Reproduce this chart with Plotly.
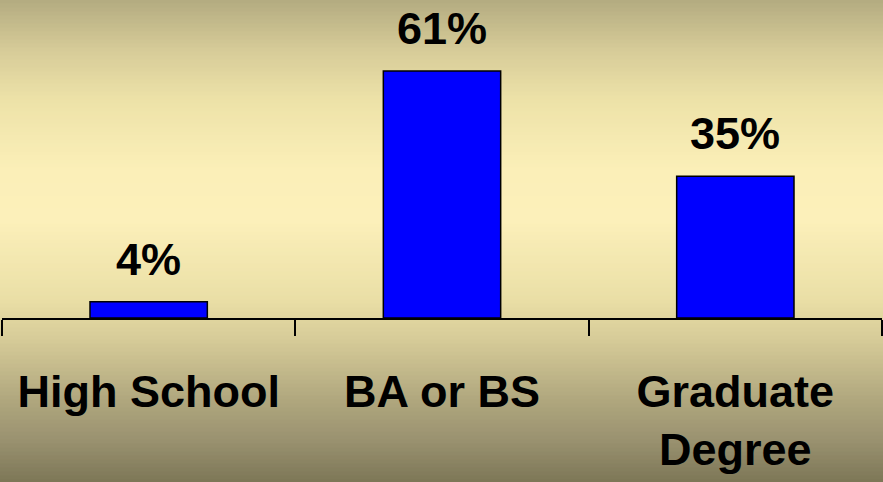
import plotly.graph_objects as go

categories = ["High School", "BA or BS", "Graduate<br>Degree"]
values = [4, 61, 35]
value_labels = ["4%", "61%", "35%"]

W, H = 883, 482
plot_bottom_px = 318  # axis baseline
margin_l, margin_r = 2, 1

# background gradient stops (pixel from top, color)
stops = [
    (0, (179, 171, 128)),
    (50, (214, 203, 152)),
    (100, (237, 226, 168)),
    (170, (251, 239, 184)),
    (220, (252, 240, 186)),
    (300, (234, 223, 166)),
    (340, (214, 203, 152)),
    (400, (176, 167, 126)),
    (440, (154, 146, 112)),
    (482, (125, 119, 87)),
]


def color_at(p):
    for (p0, c0), (p1, c1) in zip(stops[:-1], stops[1:]):
        if p0 <= p <= p1:
            t = (p - p0) / (p1 - p0)
            return "rgb(%d,%d,%d)" % tuple(round(a + (b - a) * t) for a, b in zip(c0, c1))
    return "rgb(%d,%d,%d)" % stops[-1][1]


shapes = []
band = 4
for p in range(0, H, band):
    y0 = 1 - (p + band + 0.5) / plot_bottom_px
    y1 = 1 - (p - 0.5) / plot_bottom_px
    shapes.append(dict(type="rect", xref="paper", yref="paper", x0=-0.01, x1=1.01,
                       y0=y0, y1=y1, fillcolor=color_at(p + band / 2),
                       line=dict(width=0), layer="below"))

fig = go.Figure()
fig.add_trace(go.Bar(
    x=categories, y=values, width=0.4,
    marker=dict(color="#0000FF", line=dict(color="black", width=1.5)),
    hoverinfo="skip",
))

tick_font = dict(family="Liberation Sans, Arial, sans-serif", size=45, color="black")
value_font = dict(family="Liberation Sans, Arial, sans-serif", size=45, color="black")

annotations = []
for c, v, lab in zip(categories, values, value_labels):
    annotations.append(dict(x=c, y=v, text="<b>%s</b>" % lab, showarrow=False,
                            yanchor="bottom", yshift=15, font=value_font))

px_per_unit = 4.05
fig.update_layout(
    width=W, height=H,
    margin=dict(l=margin_l, r=margin_r, t=0, b=H - plot_bottom_px, pad=0),
    paper_bgcolor="rgb(200,190,140)",
    plot_bgcolor="rgba(0,0,0,0)",
    showlegend=False,
    shapes=shapes,
    annotations=annotations,
    bargap=0.6,
    xaxis=dict(
        type="category", range=[-0.5, 2.5], tickson="boundaries",
        ticks="outside", ticklen=16, tickwidth=1.5, tickcolor="black",
        showline=True, linecolor="black", linewidth=1.5,
        showgrid=False, zeroline=False,
        tickfont=tick_font, ticklabelstandoff=33,
        tickvals=categories,
        ticktext=["<b>%s</b>" % c for c in categories],
    ),
    yaxis=dict(
        range=[0, plot_bottom_px / px_per_unit], visible=False,
        showgrid=False, zeroline=False,
    ),
)

fig.write_html(
    "out.html",
    config={"displayModeBar": False},
    post_script="document.body.style.margin='0';document.body.style.overflow='hidden';",
)
